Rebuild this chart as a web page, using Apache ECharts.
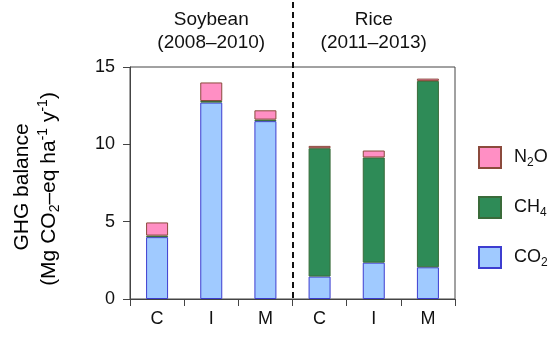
<!DOCTYPE html>
<html>
<head>
<meta charset="utf-8">
<script src="https://cdn.jsdelivr.net/npm/echarts@6/dist/echarts.min.js"></script>
<style>html,body{margin:0;padding:0;background:#fff}#c{width:550px;height:338px}</style>
</head>
<body>
<div id="c"></div>
<script>
var categories = ['C', 'I', 'M', 'C', 'I', 'M'];
var co2 = [4.0, 12.7, 11.5, 1.45, 2.35, 2.05];
var ch4 = [0.1, 0.1, 0.1, 8.3, 6.8, 12.05];
var n2o = [0.85, 1.2, 0.6, 0.15, 0.45, 0.15];
var yTicks = [0, 5, 10, 15];
var groups = [{ name: 'Soybean', years: '(2008–2010)', from: 0, to: 2 },
              { name: 'Rice', years: '(2011–2013)', from: 3, to: 5 }];

var FONT = 'Arial, "Liberation Sans", sans-serif';
var chart = echarts.init(document.getElementById('c'), null, { renderer: 'canvas' });

var subRich = {
  b: { fontSize: 18, fontFamily: FONT, color: '#111', lineHeight: 22, verticalAlign: 'middle' },
  s: { fontSize: 12, fontFamily: FONT, color: '#111', lineHeight: 22, verticalAlign: 'bottom', padding: [8, 0, 0, 0] }
};
var legendLabels = {
  'N2O': '{b|N}{s|2}{b|O}',
  'CH4': '{b|CH}{s|4}',
  'CO2': '{b|CO}{s|2}'
};

var option = {
  animation: false,
  grid: { left: 130, right: 95, top: 67, bottom: 39, show: true, borderColor: '#444', borderWidth: 1, backgroundColor: 'transparent' },
  legend: {
    orient: 'vertical', left: 473, top: 141, itemWidth: 22, itemHeight: 21, itemGap: 27,
    icon: 'rect',
    data: ['N2O', 'CH4', 'CO2'],
    formatter: function (n) { return legendLabels[n]; },
    textStyle: { rich: subRich, padding: [0, 0, 0, 8] }
  },
  xAxis: {
    type: 'category', data: categories,
    axisLine: { lineStyle: { color: '#444', width: 1 } },
    axisTick: { show: true, length: 7, interval: 0, lineStyle: { color: '#444' } },
    axisLabel: { fontSize: 18, color: '#111', fontFamily: FONT, margin: 11, interval: 0 }
  },
  yAxis: {
    type: 'value', min: 0, max: 15, interval: 5,
    axisLine: { show: true, lineStyle: { color: '#444', width: 1 } },
    axisTick: { show: true, length: 7, lineStyle: { color: '#444' } },
    axisLabel: { fontSize: 18, color: '#111', fontFamily: FONT, margin: 15,
      formatter: function (v) { return yTicks.indexOf(v) >= 0 ? String(v) : ''; } },
    splitLine: { show: false }
  },
  series: [
    { name: 'CO2', type: 'bar', stack: 'g', data: co2, barWidth: 22,
      itemStyle: { color: '#a0caff', borderColor: '#3d3dd0', borderWidth: 1 } },
    { name: 'CH4', type: 'bar', stack: 'g', data: ch4, barWidth: 22,
      itemStyle: { color: '#2e8b57', borderColor: '#3a6b3a', borderWidth: 1 } },
    { name: 'N2O', type: 'bar', stack: 'g', data: n2o, barWidth: 22,
      itemStyle: { color: '#ff8fc4', borderColor: '#8b4a3c', borderWidth: 1 } }
  ]
};
chart.setOption(option);

// Decorations positioned from the axis scales
var graphics = [];
var p2 = chart.convertToPixel({ xAxisIndex: 0 }, 2);
var p3 = chart.convertToPixel({ xAxisIndex: 0 }, 3);
var sepX = Math.round((p2 + p3) / 2);
var y0 = chart.convertToPixel({ yAxisIndex: 0 }, 0);
graphics.push({ type: 'line', shape: { x1: sepX, y1: 2, x2: sepX, y2: y0 },
  style: { stroke: '#111', lineWidth: 2, lineDash: [6, 4] }, z: 10 });
groups.forEach(function (g) {
  var cx = (chart.convertToPixel({ xAxisIndex: 0 }, g.from) + chart.convertToPixel({ xAxisIndex: 0 }, g.to)) / 2;
  graphics.push({ type: 'text', x: cx, y: 20, style: { text: g.name, fontSize: 19, fontFamily: FONT, fill: '#111', textAlign: 'center', textVerticalAlign: 'middle' } });
  graphics.push({ type: 'text', x: cx, y: 43, style: { text: g.years, fontSize: 19, fontFamily: FONT, fill: '#111', textAlign: 'center', textVerticalAlign: 'middle' } });
});
var nameRich = {
  a: { fontSize: 21, fontFamily: FONT, color: '#111', lineHeight: 26, verticalAlign: 'middle' },
  s: { fontSize: 14, fontFamily: FONT, color: '#111', lineHeight: 26, verticalAlign: 'bottom', padding: [8, 0, 0, 0] },
  p: { fontSize: 14, fontFamily: FONT, color: '#111', lineHeight: 26, verticalAlign: 'top', padding: [0, 0, 8, 0] }
};
graphics.push({ type: 'text', x: 22, y: 187, rotation: Math.PI / 2,
  style: { text: '{a|GHG balance}', rich: nameRich, textAlign: 'center', textVerticalAlign: 'middle' } });
graphics.push({ type: 'text', x: 49, y: 189, rotation: Math.PI / 2,
  style: { text: '{a|(Mg CO}{s|2}{a|–eq ha}{p|-1}{a| y}{p|-1}{a|)}', rich: nameRich, textAlign: 'center', textVerticalAlign: 'middle' } });
chart.setOption({ graphic: graphics });
</script>
</body>
</html>
